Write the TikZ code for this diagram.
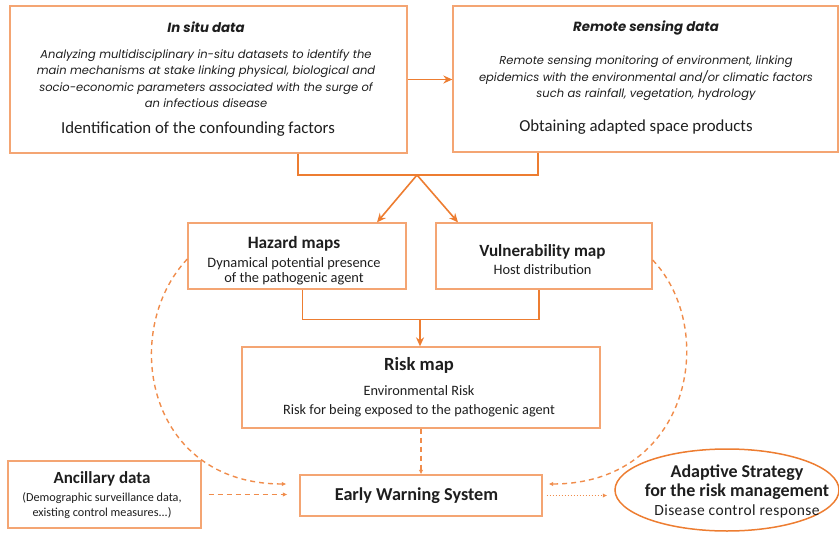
\documentclass[tikz,border=0pt]{standalone}
\usepackage{fontspec}
\setmainfont{Carlito}
\newfontfamily\geo{Poppins}
\usetikzlibrary{arrows.meta,shapes.geometric}
\definecolor{boxc}{RGB}{244,165,115}
\definecolor{linec}{RGB}{237,125,49}
\definecolor{dashc}{RGB}{240,140,75}
\definecolor{txt}{RGB}{30,30,30}
\newcommand\fsz[2]{\fontsize{#1}{#2}\selectfont}
\newcommand\geoit{\geo\itshape\fsz{11.5}{13}}
\begin{document}
\begin{tikzpicture}[x=1pt,y=-1pt,
  box/.style={draw=boxc,line width=1.3pt,inner sep=0pt,rectangle},
  tx/.style={align=center,text=txt,inner sep=0pt},
  conn/.style={draw=linec,line width=1.6pt},
  arr/.style={conn,-{Stealth[length=9pt,width=8pt]}},
  dashline/.style={draw=dashc,line width=1.4pt,dash pattern=on 5pt off 4pt,-{Latex[length=4.5pt,width=4.5pt]}},
  dotline/.style={draw=dashc,line width=1.4pt,dash pattern=on 1.5pt off 1.5pt,-{Latex[length=4.5pt,width=4.5pt]}}]
\useasboundingbox (0,0) rectangle (839,533);
% boxes
\node[box,minimum width=397pt,minimum height=147pt] (insitu) at (208.5,79.5) {};
\node[box,minimum width=385pt,minimum height=146pt] (remote) at (645.5,79) {};
\node[box,minimum width=218pt,minimum height=66pt] (hazard) at (297,256) {};
\node[box,minimum width=216pt,minimum height=66pt] (vuln) at (544,256) {};
\node[box,minimum width=358pt,minimum height=81pt] (risk) at (421,387.5) {};
\node[box,minimum width=242pt,minimum height=41pt] (ews) at (421,495.5) {};
\node[box,minimum width=193pt,minimum height=67pt] (anc) at (104.5,494.5) {};
\node[draw=linec,line width=1.5pt,ellipse,minimum width=224pt,minimum height=82pt,inner sep=0pt] (adapt) at (727,490) {};
% texts
\node[tx,font=\fsz{10}{16.3}] (insitu-t) at (206,79) {%
  {\geo\bfseries\itshape\fsz{13.3}{14}In situ data}\\[10.2pt]
  {\geoit Analyzing multidisciplinary in-situ datasets to identify the}\\
  {\geoit main mechanisms at stake linking physical, biological and}\\
  {\geoit socio-economic parameters associated with the surge of}\\
  {\geoit an infectious disease}\\[9.7pt]
  {\fsz{16.8}{19}Identification of the confounding factors\hspace*{16pt}}};
\node[tx,font=\fsz{10}{16.5}] (remote-t) at (646,77.5) {%
  {\geo\bfseries\itshape\fsz{13.3}{14}Remote sensing data}\\[17pt]
  {\geoit Remote sensing monitoring of environment, linking}\\
  {\geoit epidemics with the environmental and/or climatic factors}\\
  {\geoit such as rainfall, vegetation, hydrology}\\[17.5pt]
  {\fsz{16.8}{19}Obtaining adapted space products\hspace*{20pt}}};
\node[tx,font=\fsz{14.4}{15}] (hazard-t) at (294,261) {%
  {\bfseries\fsz{17.3}{18}Hazard maps}\\[4pt]
  Dynamical potential presence\\
  of the pathogenic agent};
\node[tx,font=\fsz{14.4}{18}] (vuln-t) at (542.5,260) {%
  {\bfseries\fsz{17.1}{18}Vulnerability map}\\
  Host distribution};
\node[tx,font=\fsz{14.3}{19}] (risk-t) at (419,387.5) {%
  {\bfseries\fsz{18.6}{20}Risk map}\\[6pt]
  Environmental Risk\\
  Risk for being exposed to the pathogenic agent};
\node[tx,font=\bfseries\fsz{18.2}{20}] (ews-t) at (416.5,496) {Early Warning System};
\node[tx,font=\fsz{12.2}{15}] (anc-t) at (102,495) {%
  {\bfseries\fsz{17}{18}Ancillary data}\\[3pt]
  (Demographic surveillance data,\\
  existing control measures...)};
\node[tx,font=\fsz{15.5}{19}] (adapt-t) at (737,491) {%
  {\bfseries\fsz{18}{19}Adaptive Strategy}\\
  {\bfseries\fsz{18}{19}for the risk management}\\
  \addfontfeatures{LetterSpace=2.5}Disease control response};
% connectors
\draw[arr] (insitu.east) -- (insitu.east -| remote.west);
\coordinate (j1) at (417,175);
\draw[conn] ([xshift=89.5pt]insitu.south) |- (j1) -| ([xshift=-107.5pt]remote.south);
\draw[arr] (j1) -- ([xshift=80pt]hazard.north);
\draw[arr] (j1) -- ([xshift=-86pt]vuln.north);
\coordinate (j2) at (420,319.5);
\draw[conn] ([xshift=5.5pt]hazard.south) |- (j2) -| ([xshift=-5pt]vuln.south);
\draw[arr] (j2) -- (j2 |- risk.north);
\draw[dashline] (risk.south) -- (risk.south |- ews.north);
\draw[dashline,shorten <=7pt,shorten >=12pt] (anc.east) -- (anc.east -| ews.west);
\draw[dashline] ([yshift=-3pt]hazard.west) .. controls (120,330) and (145,484) .. ([xshift=-13pt,yshift=11.5pt]ews.west);
\draw[dashline] ([yshift=-4pt]vuln.east) .. controls (719,330) and (690,484) .. ([xshift=6pt,yshift=11.5pt]ews.east);
\draw[dotline,shorten <=4pt,shorten >=7pt] (ews.east) -- (ews.east -| adapt.west);
\end{tikzpicture}
\end{document}
